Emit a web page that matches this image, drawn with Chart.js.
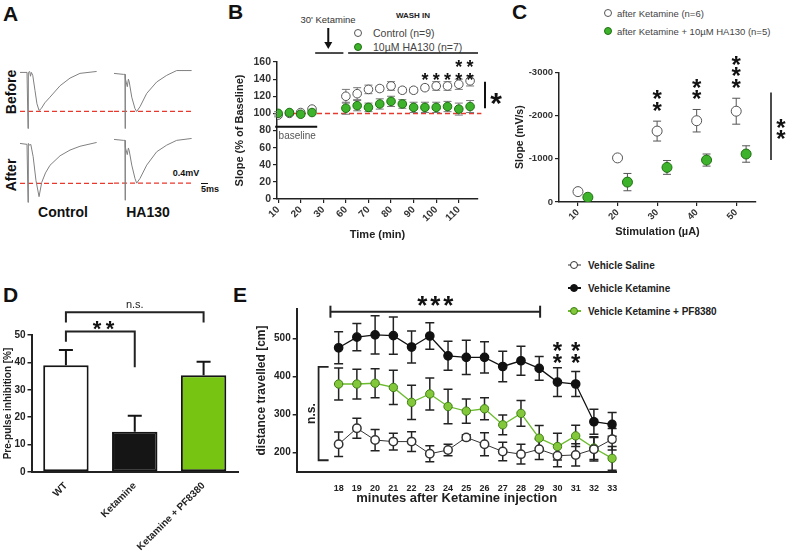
<!DOCTYPE html>
<html>
<head>
<meta charset="utf-8">
<script src="https://cdn.jsdelivr.net/npm/chart.js@4.4.1/dist/chart.umd.min.js"></script>
<style>
body { margin: 0; width: 790px; height: 553px; background: #fff; position: relative; overflow: hidden;
       font-family: "Liberation Sans", Arial, sans-serif; }
canvas { position: absolute; }
.t { position: absolute; white-space: nowrap; color: #111; transform: translate(-50%, -50%); }
.panel { font-weight: bold; font-size: 21px; transform: none; }
.rot { transform: translate(-50%, -50%) rotate(-90deg); }
.dot { position: absolute; width: 8px; height: 8px; border-radius: 50%; box-sizing: border-box; transform: translate(-50%, -50%); }
.seg { position: absolute; height: 2px; transform: translateY(-50%); }
</style>
</head>
<body>

<div class="t panel" style="left:3px;top:2px">A</div>
<div class="t panel" style="left:228px;top:0px">B</div>
<div class="t panel" style="left:512px;top:0px">C</div>
<div class="t panel" style="left:3px;top:283px">D</div>
<div class="t panel" style="left:233px;top:283px">E</div>

<div class="t rot" style="left:11px;top:92px;font-weight:bold;font-size:14px">Before</div>
<div class="t rot" style="left:11px;top:175px;font-weight:bold;font-size:14px">After</div>
<div class="t" style="left:63px;top:212px;font-weight:bold;font-size:14px">Control</div>
<div class="t" style="left:148px;top:212px;font-weight:bold;font-size:14px">HA130</div>
<div class="t" style="left:186px;top:173px;font-weight:bold;font-size:9px">0.4mV</div>
<div class="t" style="left:210px;top:189px;font-weight:bold;font-size:9px">5ms</div>
<div style="position:absolute;left:201px;top:183px;width:7px;height:1px;background:#111"></div>

<!-- legend B -->
<div class="t" style="left:413px;top:15px;font-weight:bold;font-size:8px;color:#222">WASH IN</div>
<div class="t" style="left:328px;top:19px;font-size:9.5px;color:#333">30' Ketamine</div>
<div class="dot" style="left:358px;top:33px;border:1px solid #555;background:#fff"></div>
<div class="t" style="left:373px;top:33px;font-size:10.5px;color:#444;transform:translateY(-50%)">Control (n=9)</div>
<div class="dot" style="left:358px;top:47px;border:1px solid #1f6e12;background:#3db22b"></div>
<div class="t" style="left:373px;top:47px;font-size:10.5px;color:#444;transform:translateY(-50%)">10µM HA130 (n=7)</div>

<!-- legend C -->
<div class="dot" style="left:608px;top:13px;border:1px solid #555;background:#fff"></div>
<div class="t" style="left:617px;top:13px;font-size:9.5px;color:#444;transform:translateY(-50%)">after Ketamine (n=6)</div>
<div class="dot" style="left:608px;top:31px;border:1px solid #1f6e12;background:#3db22b"></div>
<div class="t" style="left:617px;top:31px;font-size:9.5px;color:#444;transform:translateY(-50%)">after Ketamine + 10µM HA130 (n=5)</div>

<!-- legend E -->
<div class="seg" style="left:568px;top:265px;width:13px;background:#333;height:1px"></div>
<div class="dot" style="left:574px;top:265px;border:1.5px solid #333;background:#fff"></div>
<div class="t" style="left:588px;top:265px;font-weight:bold;font-size:10px;color:#222;transform:translateY(-50%)">Vehicle Saline</div>
<div class="seg" style="left:568px;top:288px;width:13px;background:#111"></div>
<div class="dot" style="left:574px;top:288px;border:1px solid #111;background:#111"></div>
<div class="t" style="left:588px;top:288px;font-weight:bold;font-size:10px;color:#222;transform:translateY(-50%)">Vehicle Ketamine</div>
<div class="seg" style="left:568px;top:311px;width:13px;background:#6cbb2f"></div>
<div class="dot" style="left:574px;top:311px;border:1px solid #3f7d16;background:#82c83a"></div>
<div class="t" style="left:588px;top:311px;font-weight:bold;font-size:10px;color:#222;transform:translateY(-50%)">Vehicle Ketamine + PF8380</div>

<script>
// ---- A: field potential traces (ms, mV relative to baseline) ----
const ctrlBeforeT = [-5.7, -0.7, 0, 0.05, 0.25, 1.2, 1.8, 2.4, 3.4, 5.0, 6.4, 7.9, 9.5, 12.0, 15.7, 22.9, 30.0, 37.1, 49.0];
const ctrlBeforeV = [0, 0, 0, -0.59, 0, 0.01, -0.04, 0, -0.03, -0.19, -0.33, -0.40, -0.38, -0.32, -0.26, -0.14, -0.06, -0.01, 0.01];
const ctrlAfterT = [-5.7, -0.7, 0, 0.05, 0.25, 1.2, 2.0, 3.7, 5.7, 7.9, 9.8, 12.5, 15.7, 22.9, 30.0, 37.1, 49.0];
const ctrlAfterV = [0, -0.01, -0.01, -0.62, 0, -0.02, -0.01, -0.14, -0.39, -0.56, -0.41, -0.31, -0.23, -0.13, -0.07, -0.03, 0.01];
const haBeforeT = [-7.9, -1.2, 0, 0.05, 0.25, 1.6, 2.4, 3.0, 4.8, 7.1, 8.3, 10.7, 15.5, 22.6, 29.8, 36.9, 47.6];
const haBeforeV = [0, -0.01, -0.01, -0.58, -0.05, -0.14, -0.06, -0.09, -0.25, -0.37, -0.40, -0.35, -0.21, -0.09, -0.02, 0.03, 0.03];
const haAfterT = [-7.9, -1.2, 0, 0.05, 0.25, 1.6, 2.4, 3.0, 4.8, 7.1, 8.3, 10.7, 15.5, 22.6, 29.8, 36.9, 47.6];
const haAfterV = [0, -0.01, -0.01, -0.64, -0.08, -0.16, -0.09, -0.12, -0.27, -0.41, -0.46, -0.41, -0.27, -0.13, -0.06, -0.01, 0.01];
const ctrlBeforeRef = -0.41, ctrlAfterRef = -0.42, haBeforeRef = -0.40, haAfterRef = -0.46;

// ---- B: slope over time ----
const bTickLabels = ['10', '20', '30', '60', '70', '80', '90', '100', '110'];
const bMinutes = [10, 15, 20, 25, 60, 65, 70, 75, 80, 85, 90, 95, 100, 105, 110, 115];
const bControl = [98, 100, 101, 105, 120, 123, 128, 129, 132, 127, 127, 130, 132, 132, 134, 138];
const bControlErr = [2, 2, 2, 2, 8, 7, 5, 3, 5, 3, 3, 3, 5, 5, 6, 6];
const bHA130 = [100, 101, 99, 101, 106, 109, 107, 111, 114, 111, 107, 107, 107, 108, 105, 108];
const bHA130Err = [2, 2, 2, 2, 7, 6, 5, 6, 6, 5, 6, 6, 6, 6, 7, 7];
const bStars = [0, 0, 0, 0, 0, 0, 0, 0, 0, 0, 0, 1, 1, 1, 2, 2];

// ---- C: input/output ----
const cStim = [10, 20, 30, 40, 50];
const cKetamine = [-240, -1020, -1640, -1880, -2100];
const cKetamineErr = [0, 0, 230, 260, 300];
const cHA130 = [-110, -460, -800, -970, -1110];
const cHA130Err = [0, 200, 160, 140, 190];
const cStars = [0, 0, 2, 2, 3];

// ---- D: prepulse inhibition ----
const dGroups = ['WT', 'Ketamine', 'Ketamine + PF8380'];
const dMean = [39, 14.7, 35.3];
const dSem = [5.5, 5.8, 4.9];

// ---- E: locomotion ----
const eMinutes = [18, 19, 20, 21, 22, 23, 24, 25, 26, 27, 28, 29, 30, 31, 32, 33];
const eSaline = [222, 264, 233, 229, 229, 197, 207, 240, 222, 203, 196, 209, 192, 194, 209, 235];
const eSalineErr = [32, 26, 28, 22, 26, 21, 15, 7, 30, 24, 26, 27, 29, 29, 31, 28];
const eKetamine = [475, 503, 509, 507, 477, 506, 454, 450, 450, 426, 441, 421, 385, 380, 281, 274];
const eKetamineErr = [42, 36, 50, 49, 42, 35, 38, 45, 41, 40, 38, 31, 38, 33, 33, 31];
const eKetPF = [380, 380, 382, 371, 332, 354, 321, 309, 315, 273, 303, 238, 216, 244, 212, 185];
const eKetPFErr = [42, 39, 38, 45, 45, 42, 45, 32, 29, 26, 34, 33, 35, 28, 30, 31];
const eStars = [0, 0, 0, 0, 0, 0, 0, 0, 0, 0, 0, 0, 2, 2, 0, 0];

const FONT = '"Liberation Sans", Arial, sans-serif';
Chart.defaults.font.family = FONT;
Chart.defaults.color = '#222';

function place(rect, area, config) {
  const c = document.createElement('canvas');
  c.width = rect.w; c.height = rect.h;
  c.style.left = rect.l + 'px'; c.style.top = rect.t + 'px';
  document.body.appendChild(c);
  const o = config.options;
  o.responsive = false; o.animation = false; o.devicePixelRatio = 1;
  o.layout = { autoPadding: false, padding: { left: 0, bottom: 0, top: area.t - rect.t, right: rect.l + rect.w - area.r } };
  if (o.scales.y.display !== false) o.scales.y.afterFit = s => { s.width = area.l - rect.l; };
  if (o.scales.x.display !== false) o.scales.x.afterFit = s => { s.height = rect.t + rect.h - area.b; };
  o.plugins = Object.assign({ legend: { display: false }, tooltip: { enabled: false } }, o.plugins || {});
  return new Chart(c, config);
}

function pts(xs, ys) { return xs.map((x, i) => ({ x: x, y: ys[i] })); }

function star(ctx, x, y, size) {
  ctx.save();
  ctx.fillStyle = '#111';
  ctx.font = 'bold ' + size + 'px ' + FONT;
  ctx.textAlign = 'center'; ctx.textBaseline = 'alphabetic';
  ctx.fillText('*', x, y + size * 0.6);
  ctx.restore();
}

function errBars(chart, xs, ys, errs, color, width, cap, upOnly) {
  const ctx = chart.ctx, sx = chart.scales.x, sy = chart.scales.y;
  ctx.save();
  ctx.strokeStyle = color; ctx.lineWidth = width;
  xs.forEach((xv, i) => {
    if (!errs[i]) return;
    const px = sx.getPixelForValue(xv);
    const top = sy.getPixelForValue(ys[i] + errs[i]);
    const bot = upOnly ? sy.getPixelForValue(ys[i]) : sy.getPixelForValue(ys[i] - errs[i]);
    ctx.beginPath();
    ctx.moveTo(px, top); ctx.lineTo(px, bot);
    ctx.moveTo(px - cap, top); ctx.lineTo(px + cap, top);
    if (!upOnly) { ctx.moveTo(px - cap, bot); ctx.lineTo(px + cap, bot); }
    ctx.stroke();
  });
  ctx.restore();
}

function line(ctx, pts, color, width) {
  ctx.save();
  ctx.strokeStyle = color; ctx.lineWidth = width;
  ctx.beginPath();
  pts.forEach((p, i) => i ? ctx.lineTo(p[0], p[1]) : ctx.moveTo(p[0], p[1]));
  ctx.stroke();
  ctx.restore();
}

// ---------------- A ----------------
function traceChart(rect, tmin, tmax, ts, vs, ref) {
  return place(rect, { l: rect.l, t: rect.t, r: rect.l + rect.w, b: rect.t + rect.h }, {
    type: 'line',
    data: {
      datasets: [
        { data: pts(ts, vs), borderColor: '#808080', borderWidth: 1, pointRadius: 0, tension: 0 },
        { data: [{ x: tmin, y: ref }, { x: tmax, y: ref }], borderColor: '#e8392f', borderWidth: 1.3,
          borderDash: [5, 3], pointRadius: 0 }
      ]
    },
    options: {
      scales: {
        x: { type: 'linear', display: false, min: tmin, max: tmax },
        y: { type: 'linear', display: false, min: -0.7, max: 0.12 }
      }
    }
  });
}
traceChart({ l: 20, t: 61, w: 94, h: 78 }, -5.7, 61.4, ctrlBeforeT, ctrlBeforeV, ctrlBeforeRef);
traceChart({ l: 114, t: 62, w: 80, h: 78 }, -7.9, 49.3, haBeforeT, haBeforeV, haBeforeRef);
traceChart({ l: 20, t: 132, w: 94, h: 78 }, -5.7, 61.4, ctrlAfterT, ctrlAfterV, ctrlAfterRef);
traceChart({ l: 114, t: 128, w: 80, h: 78 }, -7.9, 49.3, haAfterT, haAfterV, haAfterRef);

// ---------------- B ----------------
const bPos = m => (m <= 30 ? (m - 10) / 10 : 3 + (m - 60) / 10);
const bX = bMinutes.map(bPos);
place({ l: 229, t: 0, w: 276, h: 245 }, { l: 277, t: 62, r: 478, b: 199 }, {
  type: 'scatter',
  data: {
    datasets: [
      { data: pts(bX, bHA130), backgroundColor: '#3db22b', borderColor: '#1f6e12', borderWidth: 1, pointRadius: 4.3, order: 1 },
      { data: pts(bX, bControl), backgroundColor: '#fff', borderColor: '#555', borderWidth: 1, pointRadius: 4.3, order: 2 }
    ]
  },
  options: {
    scales: {
      x: {
        type: 'linear', min: -0.05, max: 8.85,
        afterBuildTicks: s => { s.ticks = bTickLabels.map((l, i) => ({ value: i })); },
        ticks: { callback: (v, i) => bTickLabels[i], minRotation: 45, maxRotation: 45, padding: 1,
                 font: { size: 10, weight: 'bold' }, color: '#333' },
        grid: { drawOnChartArea: false, tickLength: 4, color: '#222', lineWidth: 1.2 },
        border: { color: '#222', width: 1.5 },
        title: { display: true, text: 'Time (min)', font: { size: 11, weight: 'bold' }, color: '#222', padding: { top: 0, bottom: 3 } }
      },
      y: {
        type: 'linear', min: 0, max: 160,
        afterBuildTicks: s => { s.ticks = [0, 20, 40, 60, 80, 100, 120, 140, 160].map(v => ({ value: v })); },
        ticks: { callback: v => String(v), padding: 2, font: { size: 10.5, weight: 'bold' }, color: '#333' },
        grid: { drawOnChartArea: false, tickLength: 4, color: '#222', lineWidth: 1.2 },
        border: { color: '#222', width: 1.5 },
        title: { display: true, text: 'Slope (% of Baseline)', font: { size: 11, weight: 'bold' }, color: '#222', padding: { top: 4, bottom: 2 } }
      }
    }
  },
  plugins: [{
    id: 'bExtras',
    beforeDatasetsDraw(chart) {
      const sx = chart.scales.x, sy = chart.scales.y, ctx = chart.ctx;
      // reference line at 100 %
      ctx.save();
      ctx.setLineDash([5, 3]);
      line(ctx, [[sx.getPixelForValue(-0.05), sy.getPixelForValue(100)], [sx.getPixelForValue(9.0), sy.getPixelForValue(100)]], '#e8392f', 1.5);
      ctx.restore();
      errBars(chart, bX, bControl, bControlErr, '#777', 1, 4, false);
      errBars(chart, bX, bHA130, bHA130Err, '#777', 1, 4, false);
    },
    afterDraw(chart) {
      const sx = chart.scales.x, sy = chart.scales.y, ctx = chart.ctx;
      bX.forEach((x, i) => {
        for (let k = 0; k < bStars[i]; k++) star(ctx, sx.getPixelForValue(x), sy.getPixelForValue(145 + k * 15), 18);
      });
      // baseline bar
      line(ctx, [[sx.getPixelForValue(-0.13), sy.getPixelForValue(84.5)], [sx.getPixelForValue(1.73), sy.getPixelForValue(84.5)]], '#111', 2);
      ctx.save();
      ctx.fillStyle = '#555'; ctx.font = '10px ' + FONT; ctx.textBaseline = 'middle';
      ctx.fillText('baseline', sx.getPixelForValue(0.02), sy.getPixelForValue(73.5));
      ctx.restore();
      // ketamine / wash-in bars
      const yTop = sy.getPixelForValue(170.5);
      line(ctx, [[sx.getPixelForValue(1.64), yTop], [sx.getPixelForValue(2.89), yTop]], '#111', 1.5);
      line(ctx, [[sx.getPixelForValue(3.1), yTop], [sx.getPixelForValue(8.85), yTop]], '#111', 1.5);
      // arrow
      const ax = sx.getPixelForValue(2.22);
      line(ctx, [[ax, yTop - 25], [ax, yTop - 9]], '#111', 2);
      ctx.save();
      ctx.fillStyle = '#111';
      ctx.beginPath(); ctx.moveTo(ax - 4, yTop - 11); ctx.lineTo(ax + 4, yTop - 11); ctx.lineTo(ax, yTop - 4); ctx.closePath(); ctx.fill();
      ctx.restore();
      // significance bar
      const vx = chart.chartArea.right + 7;
      line(ctx, [[vx, sy.getPixelForValue(137)], [vx, sy.getPixelForValue(106)]], '#111', 2);
      star(ctx, vx + 11, sy.getPixelForValue(121.5), 30);
    }
  }]
});

// ---------------- C ----------------
const cDodge = 2.5;
const cXHA = cStim.map(s => s + cDodge);
place({ l: 514, t: 45, w: 276, h: 200 }, { l: 559, t: 72.3, r: 756, b: 202 }, {
  type: 'scatter',
  data: {
    datasets: [
      { data: pts(cStim, cKetamine), backgroundColor: '#fff', borderColor: '#555', borderWidth: 1, pointRadius: 5 },
      { data: pts(cXHA, cHA130), backgroundColor: '#3db22b', borderColor: '#1f6e12', borderWidth: 1, pointRadius: 5 }
    ]
  },
  options: {
    scales: {
      x: {
        type: 'linear', min: 5.2, max: 55,
        afterBuildTicks: s => { s.ticks = cStim.map(v => ({ value: v })); },
        ticks: { callback: v => String(v), minRotation: 45, maxRotation: 45, padding: 1, font: { size: 9.5, weight: 'bold' }, color: '#333' },
        grid: { drawOnChartArea: false, tickLength: 4, color: '#222', lineWidth: 1.2 },
        border: { color: '#222', width: 1.5 },
        title: { display: true, text: 'Stimulation (µA)', font: { size: 11, weight: 'bold' }, color: '#222', padding: { top: 0, bottom: 6 } }
      },
      y: {
        type: 'linear', min: -3000, max: 0, reverse: true,
        afterBuildTicks: s => { s.ticks = [0, -1000, -2000, -3000].map(v => ({ value: v })); },
        ticks: { callback: v => String(v), padding: 2, font: { size: 9.5, weight: 'bold' }, color: '#333' },
        grid: { drawOnChartArea: false, tickLength: 4, color: '#222', lineWidth: 1.2 },
        border: { color: '#222', width: 1.5 },
        title: { display: true, text: 'Slope (mV/s)', font: { size: 10.5, weight: 'bold' }, color: '#222', padding: { top: 0, bottom: 0 } }
      }
    }
  },
  plugins: [{
    id: 'cExtras',
    beforeDatasetsDraw(chart) {
      // values are negative: error goes toward larger magnitude too
      errBars(chart, cStim, cKetamine, cKetamineErr.map(e => -e), '#555', 1, 4, false);
      errBars(chart, cXHA, cHA130, cHA130Err.map(e => -e), '#555', 1, 4, false);
    },
    afterDraw(chart) {
      const sx = chart.scales.x, sy = chart.scales.y, ctx = chart.ctx;
      cStim.forEach((x, i) => {
        const yStart = cKetamine[i] - cKetamineErr[i] - 300;
        for (let k = 0; k < cStars[i]; k++) star(ctx, sx.getPixelForValue(x), sy.getPixelForValue(yStart - 260 * k) - 4, 24);
      });
      const vx = chart.chartArea.right + 15;
      line(ctx, [[vx, sy.getPixelForValue(-2530)], [vx, sy.getPixelForValue(-970)]], '#111', 1.5);
      star(ctx, vx + 10, sy.getPixelForValue(-1850), 24);
      star(ctx, vx + 10, sy.getPixelForValue(-1600), 24);
    }
  }]
});

// ---------------- D ----------------
place({ l: 0, t: 295, w: 245, h: 258 }, { l: 31.5, t: 335, r: 238, b: 472 }, {
  type: 'bar',
  data: {
    labels: dGroups,
    datasets: [{
      data: dMean,
      backgroundColor: ['#ffffff', '#151515', '#77c412'],
      borderColor: '#151515', borderWidth: 2, borderSkipped: false,
      barPercentage: 0.66, categoryPercentage: 1
    }]
  },
  options: {
    scales: {
      x: {
        ticks: { minRotation: 45, maxRotation: 45, padding: 0, font: { size: 10, weight: 'bold' }, color: '#222' },
        grid: { display: false },
        border: { color: '#222', width: 2 }
      },
      y: {
        min: 0, max: 50,
        ticks: { stepSize: 10, callback: v => String(v), padding: 2, font: { size: 10, weight: 'bold' }, color: '#222' },
        grid: { drawOnChartArea: false, tickLength: 4, color: '#222', lineWidth: 1.5 },
        border: { color: '#222', width: 2 },
        title: { display: true, text: 'Pre-pulse inhibition [%]', font: { size: 10, weight: 'bold' }, color: '#222', padding: { top: 2, bottom: 3 } }
      }
    }
  },
  plugins: [{
    id: 'dExtras',
    afterDatasetsDraw(chart) {
      errBars(chart, [0, 1, 2], dMean, dSem, '#151515', 2, 7, true);
      const sx = chart.scales.x, sy = chart.scales.y, ctx = chart.ctx;
      const x0 = sx.getPixelForValue(0), x1 = sx.getPixelForValue(1), x2 = sx.getPixelForValue(2);
      const yA = sy.getPixelForValue(51.3);
      line(ctx, [[x0, sy.getPixelForValue(47.5)], [x0, yA], [x1, yA], [x1, sy.getPixelForValue(38.2)]], '#222', 2);
      star(ctx, x0 + 31, yA - 9, 22); star(ctx, x0 + 44, yA - 9, 22);
      const yB = sy.getPixelForValue(58.3);
      line(ctx, [[x0, sy.getPixelForValue(54.6)], [x0, yB], [x2, yB], [x2, sy.getPixelForValue(54.6)]], '#222', 2);
      ctx.save();
      ctx.fillStyle = '#222'; ctx.font = '11px ' + FONT; ctx.textAlign = 'center'; ctx.textBaseline = 'middle';
      ctx.fillText('n.s.', (x0 + x2) / 2, yB - 7);
      ctx.restore();
    }
  }]
});

// ---------------- E ----------------
place({ l: 250, t: 285, w: 390, h: 225 }, { l: 296.7, t: 309.3, r: 616.7, b: 471.7 }, {
  type: 'line',
  data: {
    datasets: [
      { data: pts(eMinutes, eSaline), borderColor: '#333', borderWidth: 1, backgroundColor: '#fff',
        pointBorderColor: '#333', pointBorderWidth: 1.5, pointRadius: 4.2, order: 1, tension: 0 },
      { data: pts(eMinutes, eKetamine), borderColor: '#111', borderWidth: 1.3, backgroundColor: '#111',
        pointBorderColor: '#111', pointRadius: 4.2, order: 2, tension: 0 },
      { data: pts(eMinutes, eKetPF), borderColor: '#6cbb2f', borderWidth: 1.3, backgroundColor: '#82c83a',
        pointBorderColor: '#3f7d16', pointBorderWidth: 1, pointRadius: 4.2, order: 3, tension: 0 }
    ]
  },
  options: {
    scales: {
      x: {
        type: 'linear', min: 15.7, max: 33.25,
        afterBuildTicks: s => { s.ticks = eMinutes.map(v => ({ value: v })); },
        ticks: { callback: v => String(v), maxRotation: 0, padding: 3, font: { size: 9, weight: 'bold' }, color: '#222' },
        grid: { drawOnChartArea: false, display: false },
        border: { color: '#222', width: 2 },
        title: { display: true, text: 'minutes after Ketamine injection', font: { size: 13, weight: 'bold' }, color: '#222', padding: { top: 0, bottom: 4 } }
      },
      y: {
        type: 'linear', min: 150, max: 576,
        afterBuildTicks: s => { s.ticks = [200, 300, 400, 500].map(v => ({ value: v })); },
        ticks: { callback: v => String(v), padding: 2, font: { size: 10, weight: 'bold' }, color: '#222' },
        grid: { drawOnChartArea: false, tickLength: 4, color: '#222', lineWidth: 1.5 },
        border: { color: '#222', width: 2 },
        title: { display: true, text: 'distance travelled [cm]', font: { size: 12, weight: 'bold' }, color: '#222', padding: { top: 4, bottom: 2 } }
      }
    }
  },
  plugins: [{
    id: 'eExtras',
    beforeDatasetsDraw(chart) {
      errBars(chart, eMinutes, eKetPF, eKetPFErr, '#222', 1.5, 4.5, false);
      errBars(chart, eMinutes, eKetamine, eKetamineErr, '#222', 1.5, 4.5, false);
      errBars(chart, eMinutes, eSaline, eSalineErr, '#222', 1.5, 4.5, false);
    },
    afterDraw(chart) {
      const sx = chart.scales.x, sy = chart.scales.y, ctx = chart.ctx;
      eMinutes.forEach((x, i) => {
        for (let k = 0; k < eStars[i]; k++) star(ctx, sx.getPixelForValue(x), sy.getPixelForValue(451 + k * 32), 24);
      });
      // *** bracket over 18-29
      const yb = chart.chartArea.top + 2.4;
      const xa = sx.getPixelForValue(17.55), xb = sx.getPixelForValue(29.05);
      line(ctx, [[xa, yb], [xb, yb]], '#222', 2);
      line(ctx, [[xa, yb - 6], [xa, yb + 6]], '#222', 2);
      line(ctx, [[xb, yb - 6], [xb, yb + 6]], '#222', 2);
      const xm = (xa + xb) / 2;
      [-13, 0, 13].forEach(d => star(ctx, xm + d, yb - 13, 26));
      // n.s. bracket
      const xn = sx.getPixelForValue(16.9), xn2 = sx.getPixelForValue(17.45);
      const y1 = sy.getPixelForValue(425), y2 = sy.getPixelForValue(180);
      line(ctx, [[xn2, y1], [xn, y1], [xn, y2], [xn2, y2]], '#222', 1.8);
      ctx.save();
      ctx.translate(xn - 7, (y1 + y2) / 2);
      ctx.rotate(-Math.PI / 2);
      ctx.fillStyle = '#222'; ctx.font = 'bold 12px ' + FONT; ctx.textAlign = 'center'; ctx.textBaseline = 'middle';
      ctx.fillText('n.s.', 0, 0);
      ctx.restore();
    }
  }]
});
</script>
</body>
</html>
